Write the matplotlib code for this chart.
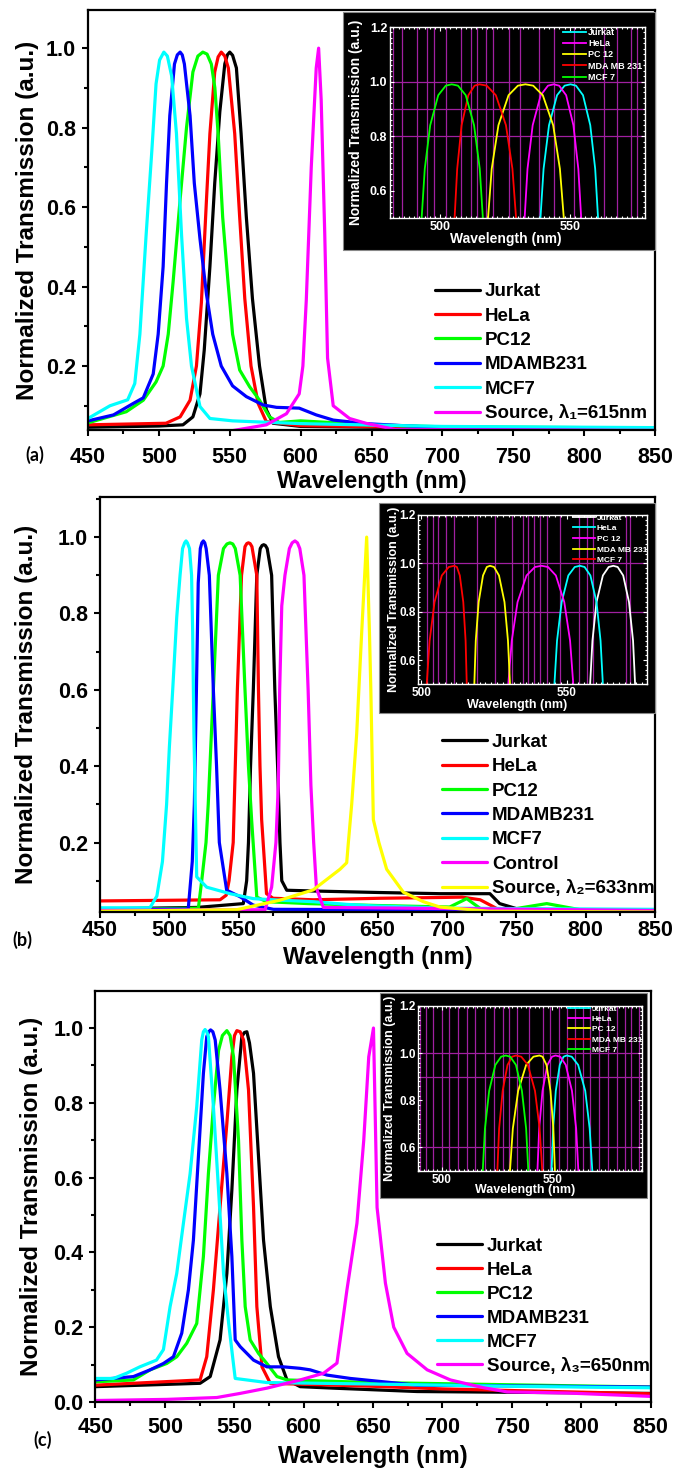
import matplotlib
matplotlib.use("Agg")
import matplotlib.pyplot as plt
from matplotlib.patches import Rectangle
from matplotlib.ticker import MultipleLocator

plt.rcParams['font.family'] = ['Liberation Sans', 'DejaVu Sans']
plt.rcParams['font.weight'] = 'bold'
plt.rcParams['axes.labelweight'] = 'bold'

W, H = 677, 1468

# ---------------- panel (a) main curves (wavelength nm, transmission) ----------------
a_jurkat = [(450, 0.046), (500, 0.049), (517, 0.052), (524, 0.072), (529, 0.13), (532, 0.24), (536, 0.45),
            (539.4, 0.66), (543, 0.84), (546.5, 0.96), (548.3, 0.983), (550, 0.99), (552, 0.982),
            (554.7, 0.95), (558, 0.785), (561.7, 0.575), (566, 0.37), (571, 0.2), (575.8, 0.09),
            (580.5, 0.056), (600, 0.048), (700, 0.044), (850, 0.042)]
a_hela = [(450, 0.052), (505, 0.056), (515, 0.072), (522, 0.114), (526.5, 0.2), (530, 0.36), (533.6, 0.62),
          (536, 0.785), (539.4, 0.94), (541.8, 0.978), (544, 0.99), (546.5, 0.98), (549, 0.95),
          (553.5, 0.785), (557, 0.575), (560.6, 0.37), (565, 0.2), (570, 0.106), (575.8, 0.06), (600, 0.05),
          (700, 0.045), (850, 0.042)]
a_pc12 = [(450, 0.057), (477, 0.085), (489, 0.114), (498, 0.16), (503, 0.2), (506.6, 0.28), (510, 0.41),
          (515, 0.62), (519.5, 0.8), (524, 0.94), (527.5, 0.98), (531, 0.99), (534, 0.985), (537, 0.96),
          (539.5, 0.9), (541.8, 0.785), (545, 0.575), (548.8, 0.41), (552, 0.28), (557, 0.19), (564, 0.148),
          (571, 0.114), (578, 0.072), (585, 0.058), (600, 0.062), (650, 0.052), (700, 0.047), (850, 0.044)]
a_mdamb = [(450, 0.062), (468, 0.077), (482, 0.106), (489, 0.12), (496, 0.18), (499.5, 0.28), (503, 0.45),
           (505.4, 0.66), (507.7, 0.83), (511, 0.96), (513, 0.983), (515, 0.99), (516.5, 0.983), (518, 0.96),
           (522, 0.83), (525, 0.66), (529, 0.52), (533.6, 0.38), (538, 0.28), (544, 0.2), (552, 0.15),
           (561.7, 0.123), (573.5, 0.102), (583, 0.096), (599, 0.094), (611, 0.077), (623, 0.064),
           (646, 0.055), (693, 0.046), (850, 0.043)]
a_mcf7 = [(450, 0.068), (465.5, 0.1), (478, 0.115), (483, 0.156), (486.6, 0.28), (491, 0.53), (495, 0.74),
          (498, 0.91), (500.5, 0.97), (503.5, 0.99), (506, 0.98), (509, 0.93), (512.4, 0.785), (516, 0.53),
          (519.5, 0.32), (523, 0.2), (529, 0.098), (536, 0.068), (552, 0.062), (600, 0.055), (700, 0.048),
          (850, 0.045)]
a_source = [(540, 0.03), (575.8, 0.052), (590, 0.08), (599, 0.13), (601.6, 0.2), (604, 0.366), (607.5, 0.7),
            (611, 0.95), (612.7, 1.0), (614.5, 0.87), (617, 0.535), (619, 0.22), (623, 0.1), (634.5, 0.068),
            (646, 0.056), (667, 0.04), (850, 0.038)]
a_labels = ['Jurkat', 'HeLa', 'PC12', 'MDAMB231', 'MCF7', 'Source, λ₁=615nm']

# ---------------- panel (b) main curves ----------------
b_jurkat = [(450, 0.026), (520, 0.03), (553.3, 0.04), (555.7, 0.1), (557, 0.2), (558.5, 0.4), (560.5, 0.6),
            (563, 0.9), (565.5, 0.97), (566.8, 0.978), (568, 0.98), (569.2, 0.978), (570.5, 0.97),
            (573.7, 0.9), (576, 0.6), (578, 0.4), (579.7, 0.2), (581, 0.1), (584.6, 0.075), (603.7, 0.073),
            (651.8, 0.069), (695, 0.066), (731, 0.066), (738, 0.04), (750, 0.027), (770, 0.022), (850, 0.02)]
b_hela = [(450, 0.047), (536.5, 0.05), (541, 0.062), (543, 0.1), (546, 0.2), (547.5, 0.4), (549, 0.6),
          (552, 0.9), (554.5, 0.975), (555.8, 0.983), (557, 0.985), (558.2, 0.983), (559.5, 0.975),
          (563, 0.9), (564.2, 0.6), (565.3, 0.4), (566.5, 0.26), (568.5, 0.15), (570, 0.066), (574.7, 0.054),
          (603.7, 0.05), (651.8, 0.054), (695, 0.056), (711, 0.057), (724, 0.05), (736, 0.027),
          (740.5, 0.018)]
b_pc12 = [(450, 0.025), (520.9, 0.028), (523.3, 0.1), (526.4, 0.2), (528, 0.3), (531.7, 0.6), (535.3, 0.9),
          (539, 0.97), (541.5, 0.982), (543.7, 0.985), (545.7, 0.982), (547.5, 0.97), (551, 0.9),
          (554.5, 0.6), (557, 0.4), (559.3, 0.258), (563, 0.057), (570, 0.045), (600, 0.04), (650, 0.035),
          (702, 0.031), (714.3, 0.053), (726, 0.022), (750, 0.027), (772, 0.04), (796, 0.024), (815, 0.018)]
b_mdamb = [(450, 0.024), (513.6, 0.026), (516.5, 0.15), (518, 0.3), (519.5, 0.6), (520.8, 0.88),
           (522.3, 0.97), (523.4, 0.985), (524.5, 0.99), (525.5, 0.985), (526.5, 0.97), (528.8, 0.9),
           (531.7, 0.6), (534, 0.4), (536, 0.2), (541.3, 0.075), (550.9, 0.058), (560.5, 0.036), (575, 0.025),
           (850, 0.022)]
b_mcf7 = [(450, 0.029), (486, 0.029), (491, 0.06), (495, 0.15), (498, 0.3), (500, 0.45), (502.4, 0.6),
          (505.3, 0.79), (507.7, 0.9), (509.5, 0.97), (511, 0.985), (512, 0.99), (513, 0.985), (514.5, 0.97),
          (516, 0.9), (516.8, 0.75), (517.7, 0.485), (519.2, 0.2), (519.7, 0.11), (526.9, 0.083),
          (543.7, 0.066), (560.5, 0.053), (579.7, 0.049), (603.7, 0.045), (627.8, 0.038), (647, 0.034),
          (700, 0.028), (850, 0.025)]
b_control = [(450, 0.022), (569, 0.024), (573.7, 0.083), (576.8, 0.2), (578.5, 0.35), (579.5, 0.6),
             (581, 0.82), (583.3, 0.9), (586.5, 0.97), (588.5, 0.985), (590.5, 0.99), (592.3, 0.985),
             (594, 0.97), (597, 0.9), (600, 0.6), (602, 0.35), (604, 0.2), (606, 0.08), (611, 0.03),
             (850, 0.022)]
b_source = [(450, 0.02), (548.5, 0.024), (579.7, 0.049), (603.7, 0.076), (623, 0.13), (627.8, 0.147),
            (629, 0.2), (631.4, 0.3), (635, 0.485), (638.6, 0.75), (642.2, 1.0), (644.2, 0.75), (645.2, 0.6),
            (647, 0.26), (651, 0.2), (656.6, 0.13), (668.6, 0.07), (683, 0.045), (695, 0.031), (730, 0.02),
            (850, 0.018)]
b_labels = ['Jurkat', 'HeLa', 'PC12', 'MDAMB231', 'MCF7', 'Control', 'Source, λ₂=633nm']

# ---------------- panel (c) main curves ----------------
c_jurkat = [(450, 0.041), (525.4, 0.05), (532.7, 0.068), (539.8, 0.166), (544.7, 0.344), (548.3, 0.567),
            (551.9, 0.834), (555.5, 0.977), (557.3, 0.988), (559.1, 0.99), (561, 0.96), (563.9, 0.879),
            (567.5, 0.656), (571.1, 0.433), (576, 0.255), (581.9, 0.121), (588, 0.059), (597.5, 0.041),
            (621.6, 0.037), (681.7, 0.028), (850, 0.023)]
c_hela = [(450, 0.045), (525.4, 0.059), (530.2, 0.121), (535, 0.3), (539.8, 0.522), (544.7, 0.745),
          (548.3, 0.923), (550.2, 0.98), (551.9, 0.993), (554.3, 0.99), (556.7, 0.968), (560.3, 0.834),
          (563.9, 0.522), (566.3, 0.255), (570, 0.094), (576, 0.05), (650, 0.042), (700, 0.035),
          (850, 0.022)]
c_pc12 = [(450, 0.054), (477.4, 0.059), (489.4, 0.086), (501.4, 0.103), (508.6, 0.121), (515.8, 0.157),
          (523, 0.21), (527.8, 0.389), (531.4, 0.611), (535, 0.79), (538.7, 0.94), (541.5, 0.98),
          (544.7, 0.993), (547, 0.98), (549.5, 0.923), (553.1, 0.7), (555.5, 0.433), (557.9, 0.255),
          (561.5, 0.166), (567.5, 0.13), (573.5, 0.103), (580.8, 0.068), (588, 0.059), (650, 0.052),
          (750, 0.046), (850, 0.04)]
c_mdamb = [(450, 0.059), (477.4, 0.068), (489.4, 0.086), (499, 0.103), (506.2, 0.121), (512.2, 0.184),
           (517, 0.3), (520.6, 0.433), (524.2, 0.656), (527.8, 0.879), (530.2, 0.977), (531.6, 0.99),
           (533, 0.995), (534.6, 0.99), (536.3, 0.968), (539.8, 0.834), (544.7, 0.611), (548.3, 0.389),
           (550.7, 0.166), (554.3, 0.148), (563.9, 0.112), (573.5, 0.094), (585.5, 0.094), (597.5, 0.09),
           (604.7, 0.086), (616.8, 0.072), (633.6, 0.063), (657.6, 0.054), (681.7, 0.045), (850, 0.04)]
c_mcf7 = [(450, 0.063), (463, 0.063), (472.5, 0.077), (482, 0.094), (494, 0.112), (499, 0.14), (503.8, 0.255),
          (508.6, 0.344), (513.4, 0.478), (518.2, 0.61), (523, 0.79), (526.6, 0.968), (527.8, 0.99),
          (529, 0.996), (530.2, 0.99), (531.4, 0.977), (535, 0.79), (538.7, 0.567), (542.3, 0.344),
          (546, 0.21), (549.5, 0.1), (550.7, 0.063), (573.5, 0.052), (650, 0.048), (750, 0.042), (850, 0.038)]
c_source = [(450, 0.004), (501.4, 0.007), (537.5, 0.012), (554.3, 0.023), (573.5, 0.037), (597.5, 0.059),
            (614.4, 0.077), (624, 0.104), (631.2, 0.3), (638.4, 0.478), (643.3, 0.7), (646.9, 0.923),
            (650.3, 1.0), (652.9, 0.52), (658.9, 0.318), (664.9, 0.2), (674.5, 0.13), (689, 0.086),
            (705.7, 0.059), (729.8, 0.038), (746.6, 0.027), (790, 0.024), (850, 0.015)]
c_labels = ['Jurkat', 'HeLa', 'PC12', 'MDAMB231', 'MCF7', 'Source, λ₃=650nm']

main_colors = ['black', 'red', '#00ff00', 'blue', 'cyan', 'magenta']
b_colors = ['black', 'red', '#00ff00', 'blue', 'cyan', 'magenta', 'yellow']

# ---------------- insets: wavelengths along each arc, shared transmission levels ----------------
arc_levels = [0.5, 0.68, 0.84, 0.95, 0.985, 0.99, 0.985, 0.95, 0.84, 0.68, 0.5]
inset_labels = ['Jurkat', 'HeLa', 'PC 12', 'MDA MB 231', 'MCF 7']

a_in = [[538.7, 539.9, 542.0, 545.1, 548.0, 550.3, 552.4, 555.1, 557.9, 559.8, 560.9],
        [532.6, 533.7, 535.7, 538.8, 541.6, 543.8, 545.9, 548.6, 551.4, 553.3, 554.4],
        [518.5, 519.9, 522.5, 526.4, 530.0, 532.9, 535.9, 539.6, 543.6, 546.2, 547.7],
        [505.6, 506.6, 508.3, 510.9, 513.3, 515.2, 518.0, 521.5, 525.4, 527.9, 529.3],
        [492.9, 494.1, 496.2, 499.3, 502.2, 504.5, 506.9, 509.9, 513.1, 515.3, 516.5]]
a_in_colors = ['cyan', 'magenta', 'yellow', 'red', '#00ff00']
a_grid_x = [482, 485.2, 491.3, 495.1, 497.5, 502.3, 508, 511.9, 514.2, 517.8, 520.3, 526.7, 531,
            538.3, 544, 551.6, 563.2, 568.1, 573.5, 576]
a_grid_y = [0.8, 0.9, 1.0]

b_in = [[558.1, 558.9, 560.3, 562.5, 564.5, 566.1, 567.6, 569.5, 571.5, 572.9, 573.6],
        [545.8, 546.7, 548.3, 550.6, 552.8, 554.6, 556.2, 558.2, 560.3, 561.7, 562.5],
        [529.9, 531.1, 533.1, 536.2, 539.1, 541.4, 543.6, 546.3, 549.2, 551.2, 552.3],
        [518.2, 518.7, 519.7, 521.2, 522.5, 523.6, 525.0, 526.7, 528.6, 529.8, 530.5],
        [501.8, 502.8, 504.5, 507.0, 509.4, 511.3, 512.2, 513.2, 514.4, 515.2, 515.6]]
b_in_colors = ['white', 'cyan', 'magenta', 'yellow', 'red']
b_grid_x = [501.8, 503.8, 505.8, 508.3, 511.2, 519.0, 525.3, 531.1, 535.1, 536.8, 538.6, 540.9, 543.2,
            547.7, 554.4, 556.9, 559.2, 570.5, 571.9]
b_grid_y = [0.8, 1.0]

c_in = [[549.7, 550.4, 551.6, 553.4, 555.1, 556.5, 558.8, 561.7, 564.9, 566.9, 568.1],
        [543.3, 544.1, 545.6, 547.8, 549.9, 551.5, 553.6, 556.1, 558.9, 560.8, 561.8],
        [530.9, 532.2, 534.6, 538.2, 541.5, 544.2, 545.6, 547.4, 549.2, 550.5, 551.2],
        [525.2, 526.0, 527.6, 529.8, 531.9, 533.6, 536.0, 539.0, 542.2, 544.3, 545.5],
        [518.6, 519.6, 521.5, 524.3, 526.9, 529.0, 531.0, 533.6, 536.3, 538.2, 539.2]]
c_in_colors = ['cyan', 'magenta', 'yellow', 'red', '#00ff00']
c_grid_x = [490.3, 492.8, 496.0, 500.1, 503.5, 507.3, 511.4, 515.1, 519.6, 523.7, 527.6, 530.6, 534.2,
            539.7, 546.0, 549.0, 553.1, 556.6, 560.3, 563.8, 567.1, 571.3, 575.4, 579.4, 582.9, 585.5, 589.4]
c_grid_y = [0.6, 0.9, 1.0]

fig = plt.figure(figsize=(W / 100, H / 100), dpi=100)
fig.patch.set_facecolor('white')


def rect(l, t, r, b):
    # pixel box -> figure fraction
    return [l / W, 1 - b / H, (r - l) / W, (b - t) / H]


def main_panel(box, curves, labels, colors, ylim, yticks, leg_xy, leg_space, ylab_x, xlab_y, xpad):
    ax = fig.add_axes(rect(*box))
    lines = []
    for pts, c in zip(curves, colors):
        x, y = zip(*pts)
        lines += ax.plot(x, y, color=c, lw=2.3, solid_joinstyle='round', solid_capstyle='round')
    ax.set_xlim(450, 850)
    ax.set_ylim(*ylim)
    ax.set_xticks(range(450, 851, 50))
    ax.xaxis.set_minor_locator(MultipleLocator(25))
    ax.set_yticks(yticks)
    ax.yaxis.set_minor_locator(MultipleLocator(0.1))
    ax.tick_params(which='both', direction='out', width=1.5, labelsize=15.5, top=False, right=False)
    ax.tick_params(which='major', length=4.5)
    ax.tick_params(axis='y', which='major', pad=4)
    ax.tick_params(axis='x', which='major', pad=xpad)
    ax.tick_params(which='minor', length=3)
    for s in ax.spines.values():
        s.set_linewidth(1.6)
    ax.set_xlabel('Wavelength (nm)', fontsize=17)
    ax.set_ylabel('Normalized Transmission (a.u.)', fontsize=17.5)
    ax.yaxis.set_label_coords(ylab_x, 0.5)
    ax.xaxis.set_label_coords(0.5, xlab_y)
    ax.legend(lines, labels, loc='upper left', bbox_to_anchor=leg_xy, frameon=False, fontsize=13.5,
              handlelength=2.4, handletextpad=0.27, labelspacing=leg_space, borderpad=0, borderaxespad=0)
    return ax


def inset(box, inner, arcs, colors, xlim, gx, gy, fs_tick, fs_lab, leg_xy, leg_fs, leg_space, ylab_x,
          xlab_xy):
    l, t, r, b = box
    fig.add_artist(Rectangle((l / W, 1 - b / H), (r - l) / W, (b - t) / H, transform=fig.transFigure,
                             facecolor='black', edgecolor='#888888', lw=0.8, zorder=1))
    ax = fig.add_axes(rect(*inner), zorder=3)
    ax.set_facecolor('black')
    for g in gx:
        ax.axvline(g, color='#a020a0', lw=0.9, zorder=0)
    for g in gy:
        ax.axhline(g, color='#a020a0', lw=0.9, zorder=0)
    lines = []
    for xs, c in zip(arcs, colors):
        lines += ax.plot(xs, arc_levels, color=c, lw=1.3)
    ax.set_xlim(*xlim)
    ax.set_ylim(0.5, 1.2)
    ax.xaxis.set_major_locator(MultipleLocator(50))
    ax.xaxis.set_minor_locator(MultipleLocator(2))
    ax.set_yticks([0.6, 0.8, 1.0, 1.2])
    ax.yaxis.set_minor_locator(MultipleLocator(0.02))
    ax.tick_params(which='both', direction='in', colors='white', top=True, right=True,
                   labelsize=fs_tick, width=0.8)
    ax.tick_params(which='major', length=3, pad=2)
    ax.tick_params(which='minor', length=1.5)
    for s in ax.spines.values():
        s.set_color('white')
        s.set_linewidth(1.0)
    ax.set_xlabel('Wavelength (nm)', fontsize=fs_lab, color='white')
    ax.set_ylabel('Normalized Transmission (a.u.)', fontsize=fs_lab, color='white')
    ax.yaxis.set_label_coords(ylab_x, 0.5)
    ax.xaxis.set_label_coords(*xlab_xy)
    ax.legend(lines, inset_labels, loc='upper left', bbox_to_anchor=leg_xy, frameon=False, fontsize=leg_fs,
              labelcolor='white', handlelength=2.6, handletextpad=0.2, labelspacing=leg_space,
              borderpad=0, borderaxespad=0)
    return ax


main_panel((88, 10, 655, 430), [a_jurkat, a_hela, a_pc12, a_mdamb, a_mcf7, a_source], a_labels,
           main_colors, (0.039, 1.096), [0.2, 0.4, 0.6, 0.8, 1.0], (0.612, 0.35), 0.39, -0.086, -0.095, 7.5)
main_panel((100, 497, 655, 912), [b_jurkat, b_hela, b_pc12, b_mdamb, b_mcf7, b_control, b_source],
           b_labels, b_colors, (0.018, 1.105), [0.2, 0.4, 0.6, 0.8, 1.0], (0.616, 0.43), 0.39, -0.111,
           -0.082, 1.2)
main_panel((95.4, 991, 650.7, 1402), [c_jurkat, c_hela, c_pc12, c_mdamb, c_mcf7, c_source], c_labels,
           main_colors, (0.0, 1.099), [0.0, 0.2, 0.4, 0.6, 0.8, 1.0], (0.615, 0.40), 0.37, -0.0935, -0.104,
           6.5)

inset((343, 12, 655, 250), (390, 27, 645, 218), a_in, a_in_colors, (480.7, 579), a_grid_x, a_grid_y,
      9, 10, (0.677, 0.996), 6.5, 0.25, -0.106, (0.454, -0.075))
inset((379, 503, 655, 713), (418.3, 515, 646.7, 684.3), b_in, b_in_colors, (498.9, 577.6), b_grid_x,
      b_grid_y, 8.5, 9, (0.679, 1.006), 6, 0.33, -0.082, (0.434, -0.085))
inset((380, 993, 646.7, 1198), (418.3, 1006, 641.7, 1171), c_in, c_in_colors, (489.5, 590.4), c_grid_x,
      c_grid_y, 8.5, 9, (0.671, 1.006), 6, 0.29, -0.1, (0.48, -0.08))

for tag, x, y in [('(a)', 35, 455), ('(b)', 22, 940), ('(c)', 43, 1440)]:
    fig.text(x / W, 1 - y / H, tag, fontsize=13, fontweight='bold', ha='center', va='center',
             family=['Lato', 'DejaVu Sans'])

fig.savefig('out.png', dpi=100)
